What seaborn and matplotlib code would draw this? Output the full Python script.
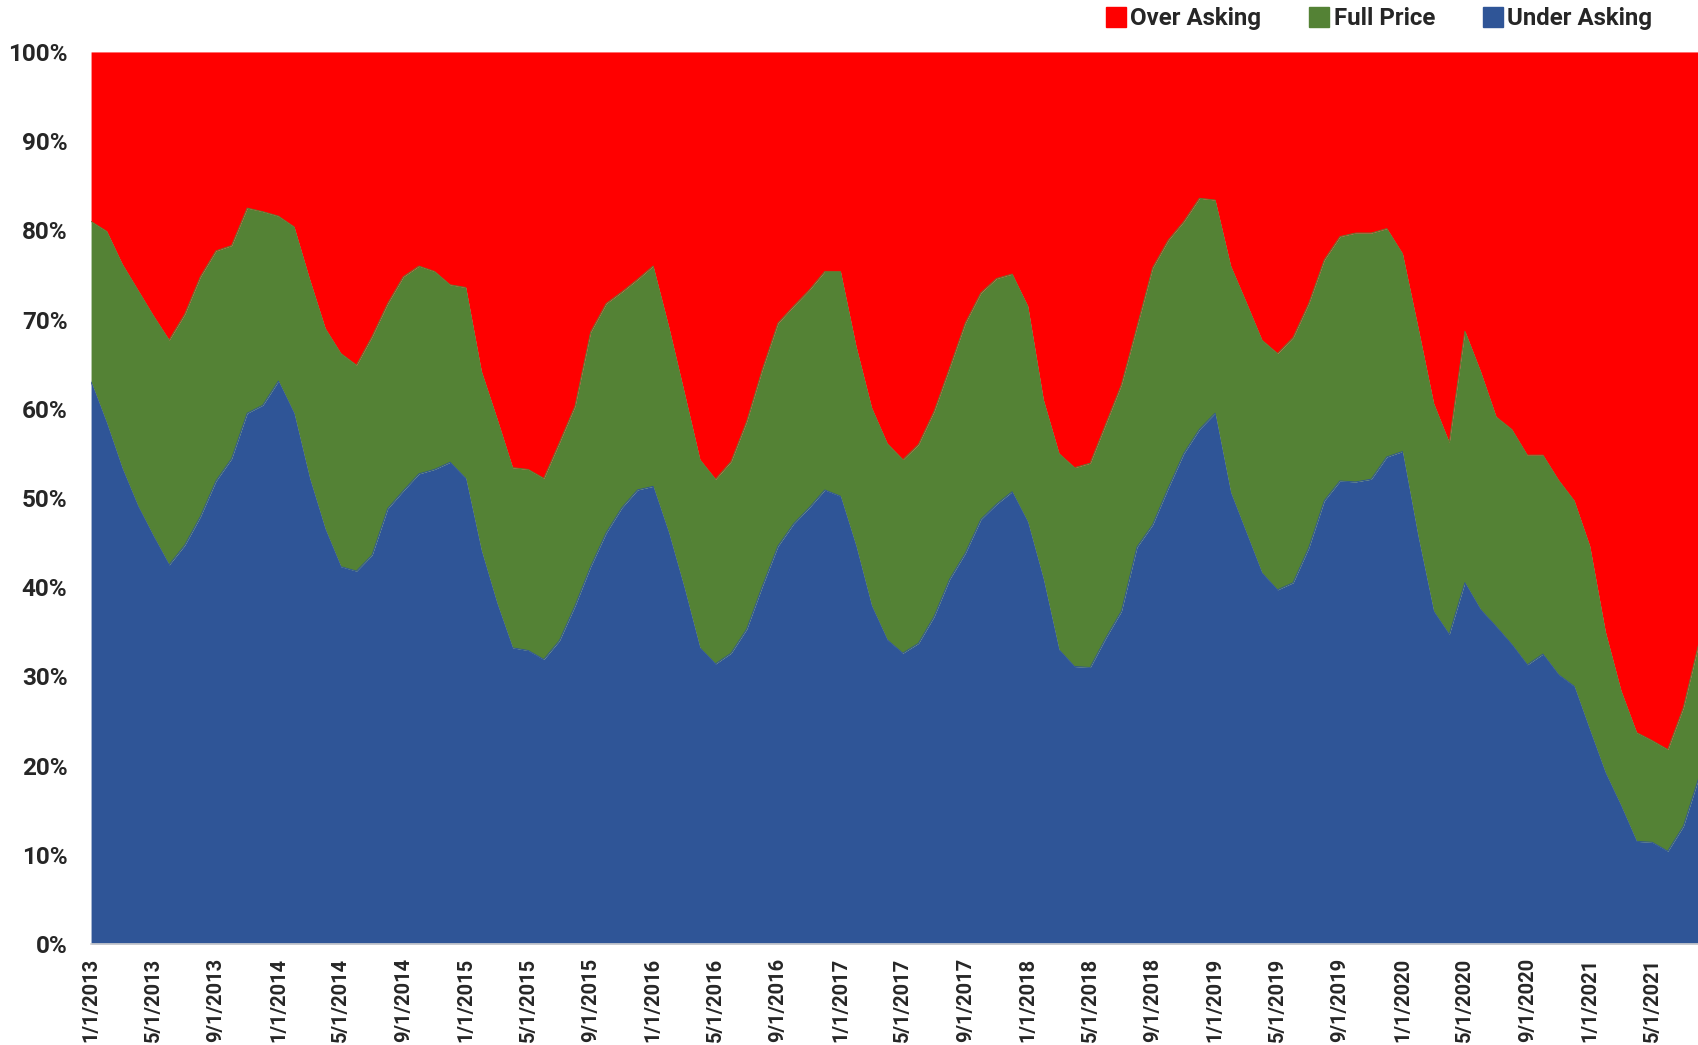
import numpy as np
import pandas as pd
import matplotlib
matplotlib.use("Agg")
import matplotlib.pyplot as plt
from matplotlib.lines import Line2D
import seaborn as sns

# Monthly share of homes sold under asking / at full price / over asking (%)
months = pd.date_range("2013-01-01", "2021-08-01", freq="MS")

under_asking = [
    63.0, 58.4, 53.3, 49.1, 45.7, 42.5, 44.7, 47.9, 51.9, 54.4, 59.5, 60.4,
    63.1, 59.5, 52.2, 46.5, 42.3, 41.8, 43.6, 48.8, 50.8, 52.7, 53.2, 54.0,
    52.2, 44.1, 38.2, 33.2, 32.9, 31.9, 34.0, 37.9, 42.3, 46.1, 48.9, 50.9,
    51.3, 46.1, 39.9, 33.2, 31.4, 32.6, 35.3, 40.1, 44.6, 47.1, 48.9, 50.9,
    50.2, 44.6, 37.9, 34.1, 32.6, 33.7, 36.7, 40.9, 43.8, 47.6, 49.3, 50.7,
    47.3, 40.9, 33.0, 31.1, 31.0, 34.3, 37.3, 44.5, 47.0, 51.1, 55.0, 57.7,
    59.5, 50.6, 46.1, 41.6, 39.7, 40.5, 44.4, 49.7, 51.9, 51.8, 52.1, 54.6,
    55.2, 45.7, 37.3, 34.7, 40.5, 37.5, 35.6, 33.6, 31.3, 32.5, 30.2, 28.9,
    24.0, 19.2, 15.5, 11.5, 11.4, 10.4, 13.2, 18.7,
]

full_price = [
    18.0, 21.5, 22.9, 24.2, 24.7, 25.2, 25.9, 26.9, 25.8, 23.9, 23.0, 21.7,
    18.5, 20.9, 22.3, 22.5, 23.9, 23.1, 24.5, 23.0, 24.0, 23.3, 22.2, 19.9,
    21.4, 20.1, 20.7, 20.2, 20.3, 20.3, 22.2, 22.4, 26.3, 25.7, 24.2, 23.6,
    24.7, 23.1, 21.9, 21.1, 20.7, 21.5, 23.3, 24.3, 25.0, 24.4, 24.4, 24.5,
    25.2, 22.4, 22.2, 22.0, 21.7, 22.3, 23.0, 23.7, 25.8, 25.4, 25.3, 24.4,
    24.2, 20.1, 22.0, 22.3, 22.9, 24.0, 25.4, 24.7, 28.8, 27.8, 26.0, 25.9,
    23.9, 25.4, 25.8, 26.1, 26.5, 27.5, 27.4, 27.0, 27.4, 27.9, 27.6, 25.6,
    22.2, 23.4, 23.3, 21.5, 28.2, 26.7, 23.5, 24.1, 23.5, 22.3, 21.8, 20.8,
    20.6, 15.8, 12.9, 12.2, 11.4, 11.4, 13.3, 15.1,
]

df = pd.DataFrame({"month": months, "Under Asking": under_asking,
                   "Full Price": full_price})
df["Over Asking"] = 100 - df["Under Asking"] - df["Full Price"]
df["pos"] = np.arange(len(df))

series = ["Under Asking", "Full Price", "Over Asking"]
colors = {"Under Asking": "#2F5597", "Full Price": "#548235",
          "Over Asking": "#FF0000"}

sns.set_theme(style="white")
plt.rcParams["font.family"] = ["Roboto", "DejaVu Sans"]

fig = plt.figure(figsize=(16.99, 10.45), dpi=100)
ax = fig.add_axes([0.0536, 0.0967, 0.9464, 0.8536])

# stacked areas (100% stacked)
ax.stackplot(df["pos"], *[df[s] for s in series],
             colors=[colors[s] for s in series], linewidth=0)
# layer boundaries drawn through seaborn so edges stay crisp
cum = df[series].cumsum(axis=1)
for s in series[:-1]:
    sns.lineplot(x=df["pos"], y=cum[s], ax=ax, color=colors[s],
                 linewidth=0.6, legend=False)

ax.set_xlim(0, len(df) - 1)
ax.set_ylim(0, 100)
ax.set_xlabel("")
ax.set_ylabel("")

yt = np.arange(0, 101, 10)
ax.set_yticks(yt)
ax.set_yticklabels([f"{v}%" for v in yt], fontsize=17.5, fontweight="bold")

tick_pos = df["pos"][::4]
tick_lbl = [f"{d.month}/1/{d.year}" for d in df["month"][::4]]
ax.set_xticks(tick_pos)
ax.set_xticklabels(tick_lbl, rotation=90, fontsize=14.5, fontweight="bold")
ax.tick_params(axis="y", length=0, pad=17)
ax.tick_params(axis="x", length=0, pad=10)

for side in ["top", "right", "left"]:
    ax.spines[side].set_visible(False)
ax.spines["bottom"].set_color("#d0d0d0")
ax.spines["bottom"].set_linewidth(1.2)

handles = [Line2D([], [], marker="s", linestyle="none", markersize=14,
                  markerfacecolor=colors[s], markeredgecolor=colors[s])
           for s in ["Over Asking", "Full Price", "Under Asking"]]
fig.legend(handles, ["Over Asking", "Full Price", "Under Asking"],
           loc="center right", bbox_to_anchor=(0.978, 0.982), ncol=3,
           frameon=False, handletextpad=0.2, columnspacing=2.0,
           handlelength=0.8, borderaxespad=0,
           prop={"family": ["Roboto", "DejaVu Sans"], "weight": "bold",
                 "size": 17.3})

fig.savefig("out.png", dpi=100, facecolor="white")
